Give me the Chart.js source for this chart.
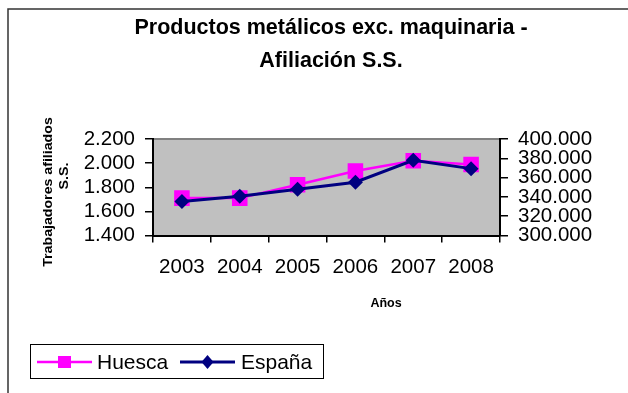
<!DOCTYPE html>
<html>
<head>
<meta charset="utf-8">
<script src="https://cdn.jsdelivr.net/npm/chart.js@4.4.1/dist/chart.umd.min.js"></script>
<style>
  html, body { margin: 0; padding: 0; background: #fff; }
  #wrap { width: 628px; height: 393px; }
</style>
</head>
<body>
<div id="wrap"><canvas id="chart" width="628" height="393"></canvas></div>
<script>
// --- Chart data ---
const years = ['2003', '2004', '2005', '2006', '2007', '2008'];
const huesca = [1710, 1710, 1820, 1935, 2020, 1988];
const espana = [335200, 340700, 348000, 355200, 378000, 369300];
const leftTicks = [1400, 2200, 200];      // min, max, step
const rightTicks = [300000, 400000, 20000];

const titleLines = ['Productos metálicos exc. maquinaria -', 'Afiliación S.S.'];
const yTitleLines = ['Trabajadores afiliados', 'S.S.'];
const xTitle = 'Años';

const FONT = '"Liberation Sans", Arial, sans-serif';
const MAGENTA = '#FF00FF';
const NAVY = '#000080';

// thousands separator with a dot
function fmt(v) {
    return String(v).replace(/\B(?=(\d{3})+(?!\d))/g, '.');
}

// gray plot background + outer frame, titles and legend
const decorations = {
    id: 'decorations',
    beforeDraw(chart) {
        const { ctx, chartArea: a } = chart;
        ctx.save();
        ctx.fillStyle = '#fff';
        ctx.fillRect(0, 0, chart.width, chart.height);
        ctx.fillStyle = '#C0C0C0';
        ctx.fillRect(a.left, a.top, a.right - a.left, a.bottom - a.top);
        ctx.strokeStyle = '#808080';
        ctx.lineWidth = 2;
        ctx.beginPath();
        ctx.moveTo(a.left, a.top);
        ctx.lineTo(a.right, a.top);
        ctx.stroke();
        ctx.restore();
    },
    afterDraw(chart) {
        const { ctx } = chart;
        ctx.save();

        // frame
        ctx.strokeStyle = '#333';
        ctx.lineWidth = 1.5;
        ctx.beginPath();
        ctx.moveTo(8, 393);
        ctx.lineTo(8, 9);
        ctx.lineTo(628, 9);
        ctx.stroke();

        // chart title
        ctx.fillStyle = '#000';
        ctx.textAlign = 'center';
        ctx.textBaseline = 'alphabetic';
        ctx.font = 'bold 21.5px ' + FONT;
        ctx.fillText(titleLines[0], 331, 34);
        ctx.fillText(titleLines[1], 331, 66.5);

        // x axis title
        ctx.font = 'bold 12.5px ' + FONT;
        ctx.fillText(xTitle, 386, 306.5);

        // y axis title, rotated
        ctx.font = 'bold 12px ' + FONT;
        ctx.textBaseline = 'middle';
        ctx.save();
        ctx.translate(48.5, 192);
        ctx.rotate(-Math.PI / 2);
        ctx.scale(1.18, 1);
        ctx.fillText(yTitleLines[0], 0, 0);
        ctx.restore();
        ctx.save();
        ctx.translate(64.3, 176);
        ctx.rotate(-Math.PI / 2);
        ctx.scale(1.18, 1);
        ctx.fillText(yTitleLines[1], 0, 0);
        ctx.restore();

        // legend
        const ds = chart.data.datasets;
        ctx.strokeStyle = '#000';
        ctx.lineWidth = 1;
        ctx.strokeRect(30.5, 344.5, 293, 34);
        const ly = 362;
        const items = [
            { d: ds[0], x0: 37, x1: 92, tx: 97 },
            { d: ds[1], x0: 180, x1: 235, tx: 241 }
        ];
        ctx.font = '21px ' + FONT;
        ctx.textAlign = 'left';
        ctx.textBaseline = 'middle';
        items.forEach(it => {
            ctx.strokeStyle = it.d.borderColor;
            ctx.lineWidth = it.d.borderWidth;
            ctx.beginPath();
            ctx.moveTo(it.x0, ly);
            ctx.lineTo(it.x1, ly);
            ctx.stroke();
            const cx = (it.x0 + it.x1) / 2;
            ctx.fillStyle = it.d.pointBackgroundColor;
            ctx.beginPath();
            if (it.d.pointStyle === 'rect') {
                ctx.rect(cx - 6.5, ly - 6, 13, 12);
            } else {
                ctx.moveTo(cx, ly - 7);
                ctx.lineTo(cx + 6, ly);
                ctx.lineTo(cx, ly + 7);
                ctx.lineTo(cx - 6, ly);
                ctx.closePath();
            }
            ctx.fill();
            ctx.fillStyle = '#000';
            ctx.fillText(it.d.label, it.tx, ly + 1);
        });

        ctx.restore();
    }
};

const tickFont = { family: FONT, size: 20.5 };

new Chart(document.getElementById('chart'), {
    type: 'line',
    data: {
        labels: years,
        datasets: [
            {
                label: 'Huesca',
                data: huesca,
                yAxisID: 'y',
                borderColor: MAGENTA,
                backgroundColor: MAGENTA,
                pointBackgroundColor: MAGENTA,
                pointBorderColor: MAGENTA,
                borderWidth: 2.5,
                pointStyle: 'rect',
                pointRadius: 11,
                pointBorderWidth: 0,
                tension: 0,
                order: 2
            },
            {
                label: 'España',
                data: espana,
                yAxisID: 'y1',
                borderColor: NAVY,
                backgroundColor: NAVY,
                pointBackgroundColor: NAVY,
                pointBorderColor: NAVY,
                borderWidth: 3,
                pointStyle: 'rectRot',
                pointRadius: 7.5,
                pointBorderWidth: 0,
                tension: 0,
                order: 1
            }
        ]
    },
    options: {
        responsive: false,
        animation: false,
        layout: { padding: { top: 139, left: 0, right: 0, bottom: 0 } },
        plugins: {
            legend: { display: false },
            title: { display: false },
            tooltip: { enabled: false }
        },
        scales: {
            x: {
                offset: true,
                grid: { offset: true, drawOnChartArea: false, tickLength: 7, color: '#000', lineWidth: 1.5 },
                border: { color: '#000', width: 2 },
                ticks: { font: tickFont, color: '#000', padding: 13, maxRotation: 0, autoSkip: false },
                afterFit(scale) { scale.height = 157.5; }
            },
            y: {
                position: 'left',
                min: leftTicks[0],
                max: leftTicks[1],
                grid: { drawOnChartArea: false, tickLength: 8, color: '#000', lineWidth: 1.5 },
                border: { color: '#000', width: 2 },
                ticks: { stepSize: leftTicks[2], font: tickFont, color: '#000', padding: 10, autoSkip: false, callback: v => fmt(v) },
                afterFit(scale) { scale.width = 153; }
            },
            y1: {
                position: 'right',
                min: rightTicks[0],
                max: rightTicks[1],
                grid: { drawOnChartArea: false, tickLength: 8, color: '#000', lineWidth: 1.5 },
                border: { color: '#000', width: 2 },
                ticks: { stepSize: rightTicks[2], font: tickFont, color: '#000', padding: 10, autoSkip: false, callback: v => fmt(v) },
                afterFit(scale) { scale.width = 128; }
            }
        }
    },
    plugins: [decorations]
});
</script>
</body>
</html>
